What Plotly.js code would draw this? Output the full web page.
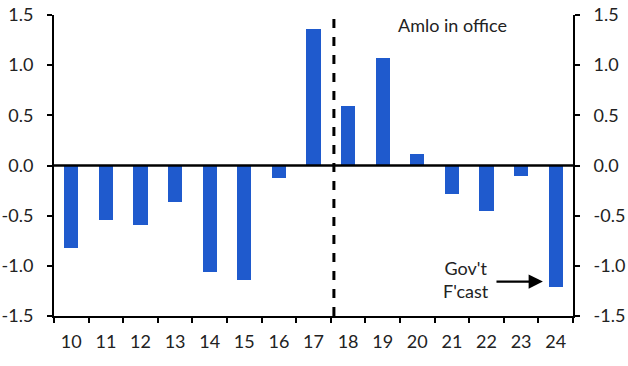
<!DOCTYPE html>
<html><head><meta charset="utf-8">
<script src="https://cdn.plot.ly/plotly-3.0.1.min.js"></script>
<style>html,body{margin:0;padding:0;background:#fff}#c{width:628px;height:366px}</style>
</head><body><div id="c"></div>
<script>
const years = ["10","11","12","13","14","15","16","17","18","19","20","21","22","23","24"];
const values = [-0.82,-0.54,-0.59,-0.36,-1.06,-1.14,-0.12,1.36,0.59,1.07,0.11,-0.28,-0.45,-0.10,-1.21];
const yTicks = [-1.5,-1.0,-0.5,0.0,0.5,1.0,1.5];
const yTickText = ["-1.5","-1.0","-0.5","0.0","0.5","1.0","1.5"];
const fontFam = "Lato, sans-serif";
const data = [
  {type:"bar", x:years, y:values, marker:{color:"#1f5acd"}, width:0.41, hoverinfo:"none"},
  {type:"scatter", x:[years[0]], y:[0], yaxis:"y2", mode:"markers", marker:{opacity:0}, hoverinfo:"none", showlegend:false}
];
const yax = {range:[-1.5,1.5], tickvals:yTicks, ticktext:yTickText, showline:true, linecolor:"#000", linewidth:2,
  ticks:"outside", ticklen:5, tickwidth:2, tickcolor:"#000", showgrid:false, zeroline:false, ticklabelstandoff:10,
  tickfont:{family:fontFam, size:18, color:"#222"}};
const layout = {
  width:628, height:366, margin:{l:54, r:55, t:15, b:50},
  paper_bgcolor:"#fff", plot_bgcolor:"#fff", showlegend:false, bargap:0,
  xaxis:{type:"category", tickson:"boundaries", showline:true, linecolor:"#000", linewidth:2,
    ticks:"outside", ticklen:5, tickwidth:2, tickcolor:"#000", showgrid:false, zeroline:false, ticklabelstandoff:8,
    tickfont:{family:fontFam, size:18, color:"#222"}, range:[-0.5,14.5]},
  yaxis: Object.assign({side:"left"}, yax),
  yaxis2: Object.assign({side:"right", overlaying:"y"}, yax),
  shapes:[
    {type:"line", xref:"paper", x0:0, x1:1, yref:"y", y0:0, y1:0, line:{color:"#000", width:2.5}},
    {type:"line", xref:"x", x0:7.59, x1:7.59, yref:"paper", y0:0, y1:1, line:{color:"#000", width:3, dash:"dash"}}
  ],
  annotations:[
    {xref:"x", yref:"y", x:11.03, y:1.40, text:"Amlo in office", showarrow:false, font:{family:fontFam, size:18, color:"#222"}},
    {xref:"x", yref:"y", x:11.41, y:-1.14, text:"Gov't<br>F'cast", showarrow:false, font:{family:fontFam, size:18, color:"#222"}},
    {xref:"x", yref:"y", x:13.63, y:-1.157, axref:"x", ayref:"y", ax:12.245, ay:-1.157, text:"", showarrow:true,
      arrowhead:2, arrowsize:1.3, arrowwidth:2.2, arrowcolor:"#000"}
  ]
};
Plotly.newPlot("c", data, layout, {staticPlot:true, displayModeBar:false});
</script></body></html>
